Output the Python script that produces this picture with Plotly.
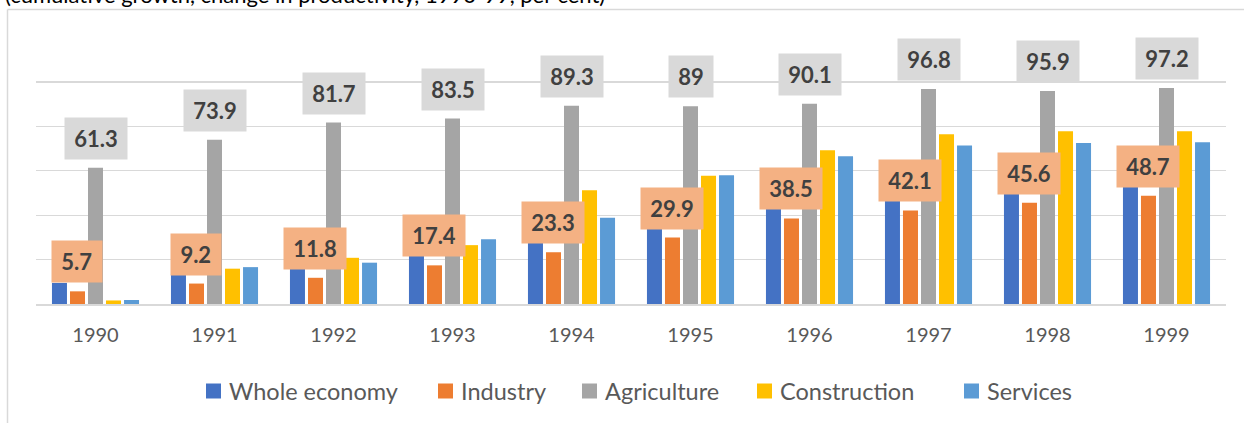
import plotly.graph_objects as go

years = ["1990", "1991", "1992", "1993", "1994", "1995", "1996", "1997", "1998", "1999"]
whole_economy = [9.5, 13.5, 16.5, 22.5, 28.5, 35.0, 43.5, 47.5, 51.0, 54.0]
industry = [5.7, 9.2, 11.8, 17.4, 23.3, 29.9, 38.5, 42.1, 45.6, 48.7]
agriculture = [61.3, 73.9, 81.7, 83.5, 89.3, 89.0, 90.1, 96.8, 95.9, 97.2]
construction = [1.6, 15.9, 20.8, 26.5, 51.2, 57.7, 69.2, 76.4, 77.8, 77.8]
services = [1.8, 16.6, 18.6, 29.1, 38.8, 58.0, 66.5, 71.3, 72.5, 72.8]

series_names = ["Whole economy", "Industry", "Agriculture", "Construction", "Services"]
series_values = [whole_economy, industry, agriculture, construction, services]
colors = ["#4472C4", "#ED7D31", "#A5A5A5", "#FFC000", "#5B9BD5"]
subtitle = "(cumulative growth, change in productivity, 1990-99, per cent)"

FONT = "Lato"
BARGAP = 0.243
W, H = 1244, 423
L, R, T, B = 36, 18, 37, 119
PW, PH = W - L - R, H - T - B


def px(xp):
    return (xp - L) / PW


def py(yp):
    return (T + PH - yp) / PH


xs = list(range(len(years)))

fig = go.Figure()
for name, vals, col in zip(series_names, series_values, colors):
    fig.add_trace(go.Bar(x=xs, y=vals, name=name, showlegend=False, hoverinfo="skip",
                         marker=dict(color=col, line=dict(width=0))))

slot = (1 - BARGAP) / len(series_names)


def label_width(s):
    return 12.5 * sum(c.isdigit() for c in s) + 5.5 * s.count(".") + 5


def fmt(v):
    return ("%.1f" % v).rstrip("0").rstrip(".")


annotations = []
for vals, idx, bg in [(industry, 1, "#F4B183"), (agriculture, 2, "#D9D9D9")]:
    off = (idx - 2) * slot
    for i, v in enumerate(vals):
        t = fmt(v)
        annotations.append(dict(
            x=i + off, y=v, xref="x", yref="y", text="<b>%s</b>" % t,
            showarrow=False, yanchor="bottom", xanchor="center", yshift=8,
            bgcolor=bg, borderpad=7, width=label_width(t), height=27,
            font=dict(family=FONT, size=22, color="#404040"),
        ))

# clipped subtitle at top of page
annotations.append(dict(
    x=px(3), y=py(-5.5), xref="paper", yref="paper", text=subtitle,
    showarrow=False, xanchor="left", yanchor="middle",
    font=dict(family=FONT, size=22, color="#000000"),
))

shapes = [
    dict(type="line", xref="paper", yref="paper", x0=px(7.5), x1=px(7.5), y0=py(9.5), y1=py(H + 5),
         line=dict(color="#D9D9D9", width=1.5)),
    dict(type="line", xref="paper", yref="paper", x0=px(7.5), x1=px(W + 5), y0=py(9.5), y1=py(9.5),
         line=dict(color="#D9D9D9", width=1.5)),
]

# custom legend (square swatch + text)
legend_x = [206, 438, 582, 757, 964]
legend_y = 391
for name, col, lx in zip(series_names, colors, legend_x):
    shapes.append(dict(type="rect", xref="paper", yref="paper",
                       x0=px(lx), x1=px(lx + 15), y0=py(legend_y + 7.5), y1=py(legend_y - 7.5),
                       fillcolor=col, line=dict(width=0)))
    annotations.append(dict(x=px(lx + 21), y=py(legend_y), xref="paper", yref="paper",
                            text=name, showarrow=False, xanchor="left", yanchor="middle",
                            font=dict(family=FONT, size=23.5, color="#595959")))

fig.update_layout(
    width=W, height=H,
    margin=dict(l=L, r=R, t=T, b=B, pad=0),
    paper_bgcolor="white", plot_bgcolor="white",
    barmode="group", bargap=BARGAP, bargroupgap=0.167,
    font=dict(family=FONT, color="#595959"),
    showlegend=False, hovermode=False,
    xaxis=dict(
        tickmode="array", tickvals=xs, ticktext=years, range=[-0.5, len(years) - 0.5],
        showgrid=False, zeroline=False, showline=True, linecolor="#D9D9D9", linewidth=1.5,
        ticks="outside", ticklen=12, tickcolor="rgba(0,0,0,0)",
        tickfont=dict(family=FONT, size=20, color="#595959"),
    ),
    yaxis=dict(
        range=[0, 120.2], dtick=20, showticklabels=False, showgrid=True,
        gridcolor="#D9D9D9", gridwidth=1.3, zeroline=False, showline=False,
    ),
    annotations=annotations,
    shapes=shapes,
)

fig.write_html("out.html", config={"displayModeBar": False, "staticPlot": True},
               post_script="document.body.style.margin='0';")
